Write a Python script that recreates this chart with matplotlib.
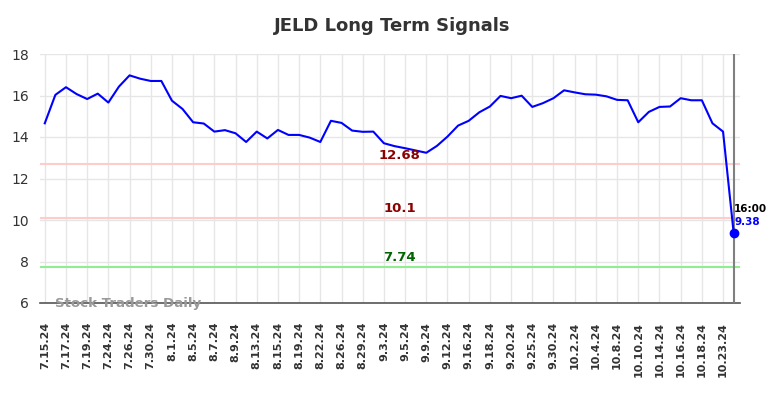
import matplotlib
matplotlib.use("Agg")
import matplotlib.pyplot as plt
import numpy as np

TITLE = "JELD Long Term Signals"

PRICES = [14.66, 16.03, 16.40, 16.07, 15.83, 16.09, 15.66, 16.43, 16.97, 16.81,
          16.70, 16.70, 15.75, 15.35, 14.71, 14.65, 14.26, 14.33, 14.18, 13.76,
          14.26, 13.93, 14.34, 14.10, 14.10, 13.97, 13.76, 14.78, 14.68, 14.31,
          14.25, 14.26, 13.70, 13.56, 13.46, 13.35, 13.24, 13.57, 14.02, 14.55,
          14.78, 15.19, 15.47, 15.98, 15.87, 15.99, 15.45, 15.63, 15.87, 16.25,
          16.15, 16.06, 16.04, 15.96, 15.79, 15.77, 14.71, 15.21, 15.45, 15.47,
          15.87, 15.77, 15.77, 14.66, 14.26, 9.38]

TICK_LABELS = ["7.15.24", "7.17.24", "7.19.24", "7.24.24", "7.26.24", "7.30.24",
               "8.1.24", "8.5.24", "8.7.24", "8.9.24", "8.13.24", "8.15.24",
               "8.19.24", "8.22.24", "8.26.24", "8.29.24", "9.3.24", "9.5.24",
               "9.9.24", "9.12.24", "9.16.24", "9.18.24", "9.20.24", "9.25.24",
               "9.30.24", "10.2.24", "10.4.24", "10.8.24", "10.10.24", "10.14.24",
               "10.16.24", "10.18.24", "10.23.24"]

RED_LEVELS = [12.68, 10.1]
GREEN_LEVELS = [7.74]
LAST_TIME = "16:00"

fig = plt.figure(figsize=(7.84, 3.98), dpi=100)
ax = fig.add_axes([40 / 784, 1 - 303 / 398, 700 / 784, 249 / 398])

x = np.arange(len(PRICES))
ax.plot(x, PRICES, color="#0000ff", lw=1.5, zorder=4)
ax.plot(x[-1], PRICES[-1], "o", color="#0000ff", ms=6, zorder=5)

mid = 33.5
for lvl in RED_LEVELS:
    ax.axhline(lvl, color="#ffcccc", lw=1.5, zorder=2)
    ax.text(mid, lvl + 0.12, f"{lvl:g}", color="#8b0000", fontsize=9.5,
            fontweight="bold", ha="center", va="bottom", zorder=6)
for lvl in GREEN_LEVELS:
    ax.axhline(lvl, color="#90ee90", lw=1.5, zorder=2)
    ax.text(mid, lvl + 0.12, f"{lvl:g}", color="#006400", fontsize=9.5,
            fontweight="bold", ha="center", va="bottom", zorder=6)

ax.axvline(x[-1], color="#808080", lw=1.5, zorder=3)
ax.text(x[-1] + 0.05, 10.3, LAST_TIME, color="black", fontsize=7.5,
        fontweight="bold", ha="left", va="bottom", zorder=6)
ax.text(x[-1] + 0.05, 9.65, f"{PRICES[-1]:.2f}", color="#0000ff", fontsize=7.5,
        fontweight="bold", ha="left", va="bottom", zorder=6)

ax.text(1, 6.0, "Stock Traders Daily", color="#999999", fontsize=9.6,
        fontweight="bold", ha="left", va="center", zorder=6)

ax.set_xlim(-0.45, 65.6)
ax.set_ylim(6, 18)
ax.set_yticks(np.arange(6, 19, 2))
ax.set_xticks(x[::2][:len(TICK_LABELS)])
ax.set_xticklabels(TICK_LABELS, rotation=90, fontsize=8, fontweight="bold",
                   color="#333333")
ax.tick_params(axis="y", labelsize=10, labelcolor="#333333", length=0, pad=8)
ax.tick_params(axis="x", length=0, pad=13.5)
ax.grid(True, color="#e6e6e6", lw=1, zorder=0)
ax.set_axisbelow(True)

for s in ["top", "right", "left"]:
    ax.spines[s].set_visible(False)
ax.spines["bottom"].set_color("#555555")
ax.spines["bottom"].set_linewidth(1.2)

fig.text(0.5, 1 - 26 / 398, TITLE, ha="center", va="center", fontsize=13,
         fontweight="bold", color="#333333")

fig.savefig("out.png", dpi=100)
